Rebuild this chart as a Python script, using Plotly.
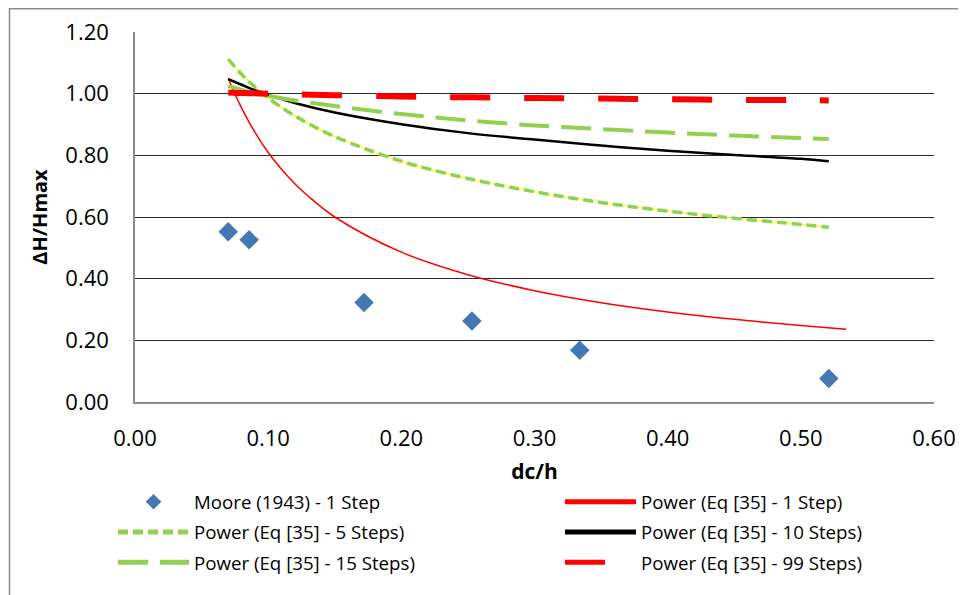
import plotly.graph_objects as go

# Moore (1943) data points
moore_x = [0.070, 0.0857, 0.172, 0.253, 0.334, 0.521]
moore_y = [0.552, 0.526, 0.323, 0.263, 0.168, 0.076]

# Trendline readings (power fits)
s1_x = [0.070, 0.075, 0.080, 0.090, 0.100, 0.110, 0.120, 0.130, 0.150, 0.200, 0.250, 0.300, 0.350, 0.400, 0.450, 0.500, 0.534]
s1_y = [1.050, 1.000, 0.954, 0.875, 0.809, 0.755, 0.708, 0.668, 0.600, 0.486, 0.413, 0.361, 0.322, 0.292, 0.268, 0.248, 0.236]

cx = [0.070, 0.080, 0.090, 0.100, 0.120, 0.150, 0.200, 0.250, 0.300, 0.350, 0.400, 0.450, 0.500, 0.521]
s5_y = [1.112, 1.063, 1.022, 0.986, 0.928, 0.861, 0.781, 0.725, 0.682, 0.647, 0.619, 0.596, 0.576, 0.567]
s10_y = [1.047, 1.029, 1.011, 0.996, 0.970, 0.939, 0.901, 0.872, 0.851, 0.832, 0.815, 0.801, 0.789, 0.781]
s15_y = [1.025, 1.012, 1.002, 0.993, 0.978, 0.960, 0.934, 0.913, 0.897, 0.885, 0.874, 0.864, 0.856, 0.853]
s99_y = [1.004, 1.002, 1.001, 1.000, 0.998, 0.995, 0.991, 0.988, 0.986, 0.984, 0.982, 0.980, 0.979, 0.978]

names = ["Moore (1943) - 1 Step", "Power (Eq [35] - 1 Step)", "Power (Eq [35] - 5 Steps)",
         "Power (Eq [35] - 10 Steps)", "Power (Eq [35] - 15 Steps)", "Power (Eq [35] - 99 Steps)"]

x_ticks = [0.0, 0.1, 0.2, 0.3, 0.4, 0.5, 0.6]
y_ticks = [0.0, 0.2, 0.4, 0.6, 0.8, 1.0, 1.2]

FONT = "Open Sans"
GREEN = "#92D050"

fig = go.Figure()

fig.add_trace(go.Scatter(x=moore_x, y=moore_y, mode="markers", name=names[0],
                         marker=dict(symbol="diamond", size=15, color="#4677B5"),
                         legend="legend", legendgroup="g0", legendrank=1))
fig.add_trace(go.Scatter(x=s1_x, y=s1_y, mode="lines", name=names[1],
                         line=dict(color="#FF0000", width=1.5, shape="spline"),
                         legend="legend2", legendgroup="g1", legendrank=1))
# thin yellow core under 5-step dashes
fig.add_trace(go.Scatter(x=cx, y=s5_y, mode="lines", showlegend=False, hoverinfo="skip",
                         line=dict(color="#FFFF00", width=1.2, shape="spline")))
fig.add_trace(go.Scatter(x=cx, y=s5_y, mode="lines", name=names[2],
                         line=dict(color=GREEN, width=3.5, dash="10px,5px", shape="spline"),
                         legend="legend", legendgroup="g2", legendrank=2))
fig.add_trace(go.Scatter(x=cx, y=s10_y, mode="lines", name=names[3],
                         line=dict(color="#000000", width=2.5, shape="spline"),
                         legend="legend2", legendgroup="g3", legendrank=2))
fig.add_trace(go.Scatter(x=cx, y=s15_y, mode="lines", name=names[4],
                         line=dict(color=GREEN, width=4, dash="30px,12px", shape="spline"),
                         legend="legend", legendgroup="g4", legendrank=3))
fig.add_trace(go.Scatter(x=cx, y=s99_y, mode="lines", name=names[5],
                         line=dict(color="#FF0000", width=6, dash="40px,34px", shape="spline"),
                         legend="legend2", legendgroup="g5", legendrank=3))

legend_common = dict(orientation="v", xanchor="left", yanchor="top", itemwidth=71,
                     tracegroupgap=3, font=dict(family=FONT, size=18.7, color="#000"),
                     bgcolor="rgba(0,0,0,0)", itemsizing="constant", traceorder="grouped")

# page has an 8px body margin; figure is sized to fit inside the window
fig.update_layout(
    width=958, height=587,
    margin=dict(l=127, r=32, t=24, b=193, autoexpand=False),
    paper_bgcolor="white", plot_bgcolor="white",
    font=dict(family=FONT, size=22, color="#000"),
    showlegend=True,
    legend=dict(x=(113 - 135) / 799, y=(402 - 483) / 369.7, **legend_common),
    legend2=dict(x=(560 - 135) / 799, y=(402 - 483) / 369.7, **legend_common),
    xaxis=dict(range=[0, 0.6], tickvals=x_ticks, tickformat=".2f", showgrid=False,
               showline=True, linecolor="#8c8c8c", linewidth=1.5, ticks="", zeroline=False,
               ticklabelstandoff=16, automargin=False,
               title=dict(text="<b>dc/h</b>", font=dict(family=FONT, size=21), standoff=13)),
    yaxis=dict(range=[0, 1.2], tickvals=y_ticks, tickformat=".2f", showgrid=True,
               gridcolor="#2a2a2a", gridwidth=1, showline=True, linecolor="#8c8c8c",
               linewidth=1.5, ticks="", zeroline=False, ticklabelstandoff=20, automargin=False,
               title=dict(text="<b>ΔH/Hmax</b>", font=dict(family=FONT, size=20), standoff=12)),
    shapes=[dict(type="rect", xref="paper", yref="paper",
                 x0=(9.5 - 135) / 799, x1=(975 - 135) / 799,
                 y0=(402 - 600) / 369.7, y1=(402 - 9) / 369.7,
                 line=dict(color="#8c8c8c", width=1.5), layer="below")],
)

fig.write_html("out.html")
